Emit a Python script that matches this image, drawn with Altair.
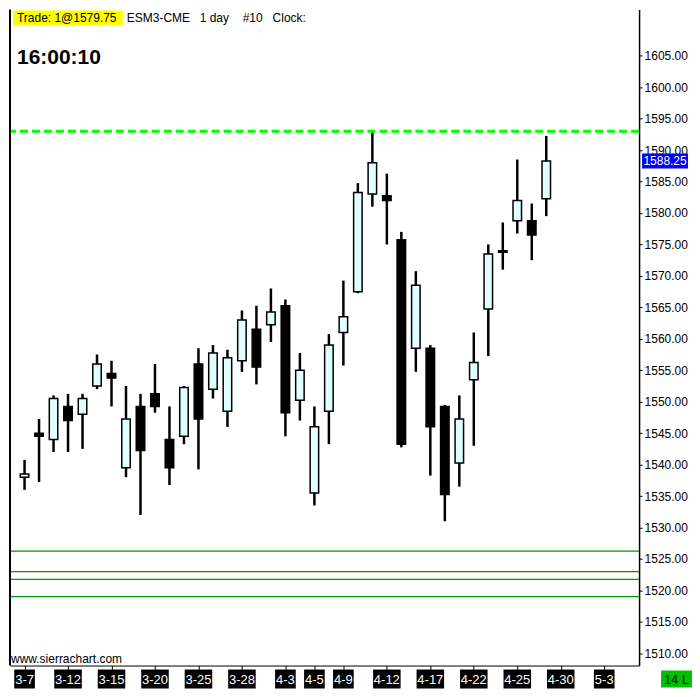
import altair as alt
import pandas as pd

# ---------------- data ----------------
dates = ["3-7", "3-8", "3-11", "3-12", "3-13", "3-14", "3-15", "3-18", "3-19", "3-20",
         "3-21", "3-22", "3-25", "3-26", "3-27", "3-28", "4-1", "4-2", "4-3", "4-4",
         "4-5", "4-8", "4-9", "4-10", "4-11", "4-12", "4-15", "4-16", "4-17", "4-18",
         "4-19", "4-22", "4-23", "4-24", "4-25", "4-26", "4-29"]
opens = [1538.0, 1545.0, 1544.0, 1549.25, 1548.0, 1552.5, 1554.5, 1539.5, 1549.25, 1551.25,
         1544.0, 1544.5, 1556.0, 1552.0, 1548.5, 1556.5, 1561.5, 1562.25, 1565.25, 1550.25,
         1535.5, 1548.5, 1561.0, 1567.5, 1583.0, 1582.75, 1575.75, 1558.5, 1558.5, 1549.25,
         1540.25, 1553.5, 1564.75, 1574.0, 1578.75, 1578.75, 1582.25]
highs = [1540.75, 1547.25, 1551.0, 1551.25, 1551.25, 1557.5, 1556.5, 1552.5, 1551.25, 1556.0,
         1549.25, 1552.5, 1558.5, 1559.0, 1558.25, 1564.5, 1565.25, 1568.0, 1566.25, 1557.75,
         1549.25, 1560.75, 1569.25, 1584.75, 1593.0, 1586.25, 1577.0, 1570.75, 1559.0, 1549.5,
         1551.0, 1561.0, 1575.0, 1578.5, 1588.5, 1581.5, 1592.25]
lows = [1536.0, 1537.25, 1542.0, 1542.0, 1542.5, 1552.0, 1549.25, 1538.0, 1532.0, 1548.25,
        1536.75, 1543.25, 1539.25, 1550.5, 1546.0, 1554.75, 1552.75, 1559.5, 1544.5, 1547.0,
        1533.5, 1543.25, 1555.75, 1567.25, 1581.0, 1575.0, 1542.75, 1554.75, 1538.25, 1531.0,
        1536.5, 1543.0, 1557.25, 1571.0, 1576.75, 1572.5, 1579.5]
closes = [1538.5, 1544.5, 1550.5, 1547.0, 1550.5, 1556.0, 1553.75, 1547.25, 1542.25, 1549.25,
          1539.5, 1552.25, 1547.25, 1557.75, 1557.0, 1563.0, 1555.5, 1564.25, 1548.25, 1555.0,
          1546.0, 1559.0, 1563.5, 1583.25, 1588.0, 1582.0, 1543.25, 1568.5, 1546.0, 1535.25,
          1547.25, 1556.25, 1573.5, 1573.75, 1582.0, 1576.5, 1588.25]

future_sessions = ["4-30", "5-1", "5-2", "5-3"]
tick_labels = ["3-7", "3-12", "3-15", "3-20", "3-25", "3-28", "4-3", "4-5", "4-9",
               "4-12", "4-17", "4-22", "4-25", "4-30", "5-3"]
y_ticks = list(range(1510, 1606, 5))
dashed_level = [1593.0]
green_levels = [1526.25, 1523.0, 1521.75, 1519.0]
last_price = [1588.25]

# ---------------- layout ----------------
W, H = 630, 657
XMIN, XMAX = -0.66, 42.06
YMIN, YMAX = 1508.06, 1612.35
PX_PER_BAR = W / (XMAX - XMIN)
PX_PER_PT = H / (YMAX - YMIN)
FONT = "Liberation Sans"

sessions = dates + future_sessions
tick_idx = [sessions.index(t) for t in tick_labels]

df = pd.DataFrame({"i": range(len(dates)), "date": dates, "open": opens,
                   "high": highs, "low": lows, "close": closes})
df["dir"] = ["up" if c >= o else "down" for o, c in zip(opens, closes)]

ticks_df = pd.DataFrame({"label": tick_labels, "i": tick_idx})
half = ticks_df["label"].str.len() * 7 / 2 / PX_PER_BAR
ticks_df["x0"] = ticks_df["i"] - half
ticks_df["x1"] = ticks_df["i"] + half

price_df = pd.DataFrame({"p": last_price})
box_half = 7.5 / PX_PER_PT
price_df["p0"] = price_df["p"] - box_half
price_df["p1"] = price_df["p"] + box_half

one = pd.DataFrame({"k": [0]})

xs = alt.Scale(domain=[XMIN, XMAX], nice=False, zero=False)
ys = alt.Scale(domain=[YMIN, YMAX], nice=False, zero=False)

x_axis = alt.Axis(values=tick_idx, labels=False, ticks=True, tickSize=4, tickColor="black",
                  tickWidth=1, domainColor="black", domainWidth=1, grid=False, title=None)
y_axis = alt.Axis(orient="right", values=y_ticks, format=".2f", labelFont=FONT,
                  labelFontSize=12, labelColor="black", tickSize=3, tickColor="black",
                  labelPadding=2, domainColor="black", domainWidth=1.5, grid=False,
                  title=None, labelFlush=False)

# ---------------- layers ----------------
green_rules = alt.Chart(pd.DataFrame({"p": green_levels})).mark_rule(
    color="#009900", strokeWidth=1.2).encode(
    y=alt.Y("p:Q", scale=ys, axis=y_axis))

dashed = alt.Chart(pd.DataFrame({"p": dashed_level})).mark_rule(
    color="#00ff00", strokeWidth=3, strokeDash=[8, 4]).encode(
    y=alt.Y("p:Q", scale=ys, axis=y_axis))

wicks = alt.Chart(df).mark_rule(color="black", strokeWidth=2.5).encode(
    x=alt.X("i:Q", scale=xs, axis=x_axis),
    y=alt.Y("low:Q", scale=ys, axis=y_axis),
    y2="high:Q")

bodies = alt.Chart(df).mark_bar(size=8.5, stroke="black", strokeWidth=1.5).encode(
    x=alt.X("i:Q", scale=xs, axis=x_axis),
    y=alt.Y("open:Q", scale=ys, axis=y_axis),
    y2="close:Q",
    fill=alt.Fill("dir:N", scale=alt.Scale(domain=["up", "down"],
                                           range=["#e0ffff", "black"]), legend=None))

left_border = alt.Chart(one).mark_rule(color="black", strokeWidth=2).encode(
    x=alt.value(0), y=alt.value(0), y2=alt.value(H))

price_box = alt.Chart(price_df).mark_rect(color="#0000ff").encode(
    x=alt.value(W + 3), x2=alt.value(W + 49),
    y=alt.Y("p0:Q", scale=ys, axis=y_axis), y2="p1:Q")
price_text = alt.Chart(price_df).mark_text(
    color="white", font=FONT, fontSize=12, align="center", baseline="middle").encode(
    x=alt.value(W + 26), y=alt.Y("p:Q", scale=ys, axis=y_axis),
    text=alt.Text("p:Q", format=".2f"))

date_boxes = alt.Chart(ticks_df).mark_rect(color="black").encode(
    x=alt.X("x0:Q", scale=xs, axis=x_axis), x2="x1:Q",
    y=alt.value(H + 4), y2=alt.value(H + 23))
date_text = alt.Chart(ticks_df).mark_text(
    color="white", font=FONT, fontSize=13, align="center", baseline="middle").encode(
    x=alt.X("i:Q", scale=xs, axis=x_axis), y=alt.value(H + 14), text="label:N")

bar_count_box = alt.Chart(one).mark_rect(color="#00c000").encode(
    x=alt.value(W + 22), x2=alt.value(W + 53), y=alt.value(H + 5), y2=alt.value(H + 22))
bar_count_text = alt.Chart(one).mark_text(
    text="14 L", color="black", font=FONT, fontSize=13, align="center",
    baseline="middle").encode(x=alt.value(W + 37.5), y=alt.value(H + 14))

trade_box = alt.Chart(one).mark_rect(color="#ffff00").encode(
    x=alt.value(3), x2=alt.value(113), y=alt.value(1), y2=alt.value(16))


def header(txt, x, y, size=12, bold=False):
    return alt.Chart(one).mark_text(
        text=txt, color="black", font=FONT, fontSize=size, align="left",
        baseline="alphabetic", fontWeight="bold" if bold else "normal").encode(
        x=alt.value(x), y=alt.value(y))


headers = [
    header("Trade: 1@1579.75", 7, 13),
    header("ESM3-CME", 117, 13),
    header("1 day", 190, 13),
    header("#10", 233, 13),
    header("Clock:", 263, 13),
    header("16:00:10", 7, 55, size=21, bold=True),
    header("www.sierrachart.com", 1, H - 3),
]

chart = alt.layer(
    wicks, bodies, green_rules, dashed, left_border,
    price_box, price_text, date_boxes, date_text,
    bar_count_box, bar_count_text, trade_box, *headers
).properties(width=W, height=H, padding=0, background="white").configure_view(stroke=None)

chart.save("out.html", embed_options={"renderer": "svg", "actions": False})
